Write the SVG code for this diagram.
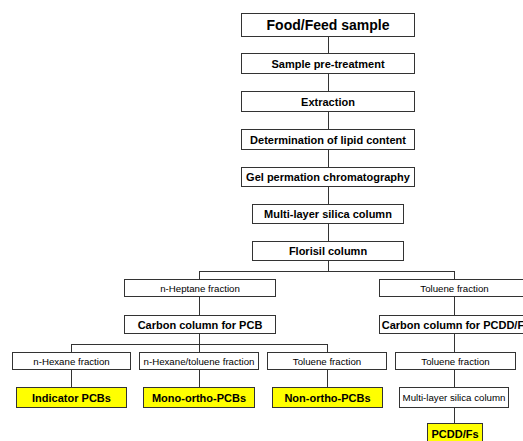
<svg xmlns="http://www.w3.org/2000/svg" width="523" height="441" viewBox="0 0 523 441">
<style>
rect{fill:#fff;stroke:#333;stroke-width:1}
rect.y{fill:#ffff00}
text{font-family:"Liberation Sans",Arial,sans-serif;text-anchor:middle;fill:#000}
.b{font-weight:bold;font-size:11px}
.big{font-weight:bold;font-size:14px}
.n{font-size:9.7px}
#connectors line{stroke:#333;stroke-width:1}
</style>
<rect x="0" y="0" width="523" height="441" style="fill:#fff;stroke:none"/>
<g id="connectors">
<line x1="328.5" y1="36" x2="328.5" y2="271.5"/>
<line x1="199.5" y1="271.5" x2="454.5" y2="271.5"/>
<line x1="199.5" y1="271" x2="199.5" y2="279"/>
<line x1="454.5" y1="271" x2="454.5" y2="279"/>
<line x1="199.5" y1="296" x2="199.5" y2="315"/>
<line x1="454.5" y1="296" x2="454.5" y2="315"/>
<line x1="199.5" y1="333" x2="199.5" y2="344.5"/>
<line x1="71.5" y1="344.5" x2="327.5" y2="344.5"/>
<line x1="71.5" y1="344" x2="71.5" y2="352"/>
<line x1="327.5" y1="344" x2="327.5" y2="352"/>
<line x1="199.5" y1="344" x2="199.5" y2="352"/>
<line x1="454.5" y1="333" x2="454.5" y2="352"/>
<line x1="71.5" y1="369" x2="71.5" y2="387"/>
<line x1="199.5" y1="369" x2="199.5" y2="387"/>
<line x1="327.5" y1="369" x2="327.5" y2="387"/>
<line x1="454.5" y1="369" x2="454.5" y2="387"/>
<line x1="454.5" y1="407" x2="454.5" y2="423"/>
</g>
<g id="food"><rect x="241.5" y="13.5" width="173" height="23"/><text class="big" x="328" y="30">Food/Feed sample</text></g>
<g id="pretreat"><rect x="241.5" y="53.5" width="173" height="20"/><text class="b" x="328" y="67.5">Sample pre-treatment</text></g>
<g id="extraction"><rect x="241.5" y="91.5" width="173" height="20"/><text class="b" x="328" y="105.5">Extraction</text></g>
<g id="lipid"><rect x="241.5" y="129.5" width="173" height="20"/><text class="b" x="328" y="143.5">Determination of lipid content</text></g>
<g id="gpc"><rect x="241.5" y="167.5" width="173" height="19"/><text class="b" x="328" y="181">Gel permation chromatography</text></g>
<g id="silica"><rect x="252.5" y="204.5" width="151" height="19"/><text class="b" x="328" y="218">Multi-layer silica column</text></g>
<g id="florisil"><rect x="252.5" y="241.5" width="151" height="19"/><text class="b" x="328" y="255">Florisil column</text></g>
<g id="heptane"><rect x="124.5" y="279.5" width="151" height="17"/><text class="n" x="200" y="291.5">n-Heptane fraction</text></g>
<g id="toluene1"><rect x="379.5" y="279.5" width="150" height="17"/><text class="n" x="454.5" y="291.5">Toluene fraction</text></g>
<g id="carbonpcb"><rect x="124.5" y="315.5" width="151" height="18"/><text class="b" x="200" y="328.5">Carbon column for PCB</text></g>
<g id="carbonpcdd"><rect x="379.5" y="315.5" width="150" height="18"/><text class="b" x="456" y="328.5">Carbon column for PCDD/Fs</text></g>
<g id="hexane"><rect x="12.5" y="352.5" width="118" height="17"/><text class="n" x="71.5" y="364.5">n-Hexane fraction</text></g>
<g id="hextol"><rect x="139.5" y="352.5" width="119" height="17"/><text class="n" x="199" y="364.5">n-Hexane/toluene fraction</text></g>
<g id="toluene2"><rect x="267.5" y="352.5" width="119" height="17"/><text class="n" x="327" y="364.5">Toluene fraction</text></g>
<g id="toluene3"><rect x="395.5" y="352.5" width="120" height="17"/><text class="n" x="455.5" y="364.5">Toluene fraction</text></g>
<g id="indicator"><rect class="y" x="16.5" y="387.5" width="110" height="20"/><text class="b" x="71.5" y="401.5">Indicator PCBs</text></g>
<g id="monoortho"><rect class="y" x="143.5" y="387.5" width="111" height="20"/><text class="b" x="199" y="401.5">Mono-ortho-PCBs</text></g>
<g id="nonortho"><rect class="y" x="272.5" y="387.5" width="110" height="20"/><text class="b" x="327.5" y="401.5">Non-ortho-PCBs</text></g>
<g id="silica2"><rect x="399.5" y="387.5" width="109" height="20"/><text class="n" x="454" y="401">Multi-layer silica column</text></g>
<g id="pcddfs"><rect class="y" x="427.5" y="423.5" width="55" height="20"/><text class="b" x="455" y="437.5">PCDD/Fs</text></g>
</svg>
